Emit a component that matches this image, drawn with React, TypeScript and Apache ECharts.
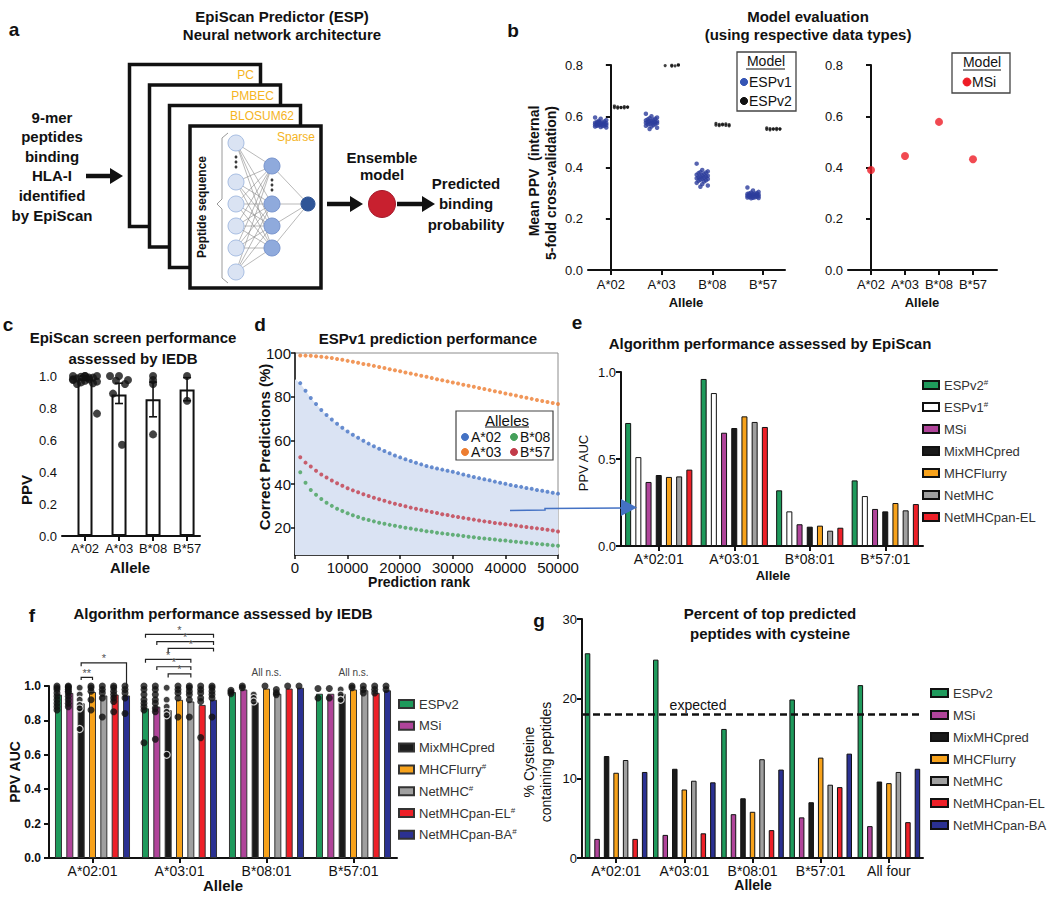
import React, { useEffect, useRef } from "react";
import * as echarts from "echarts";

const FONT = "'Liberation Sans', Arial, Helvetica, sans-serif";
const INK = "#111111";

// ---------------- Panel b ----------------
const B_ALLELES = ["A*02", "A*03", "B*08", "B*57"];
const B_ESPV1_A02 = [0.595, 0.59, 0.585, 0.582, 0.58, 0.578, 0.576, 0.575, 0.574, 0.573, 0.572, 0.571, 0.57, 0.569, 0.568, 0.567, 0.566, 0.565, 0.564, 0.563, 0.562, 0.56, 0.558, 0.556, 0.577];
const B_ESPV1_A03 = [0.61, 0.6, 0.595, 0.592, 0.59, 0.588, 0.586, 0.584, 0.582, 0.58, 0.579, 0.578, 0.577, 0.576, 0.575, 0.574, 0.573, 0.571, 0.57, 0.568, 0.566, 0.563, 0.56, 0.555, 0.55];
const B_ESPV1_B08 = [0.415, 0.39, 0.385, 0.382, 0.38, 0.378, 0.375, 0.372, 0.37, 0.368, 0.366, 0.365, 0.362, 0.36, 0.358, 0.356, 0.355, 0.352, 0.35, 0.348, 0.345, 0.34, 0.335, 0.33, 0.325];
const B_ESPV1_B57 = [0.322, 0.31, 0.305, 0.302, 0.3, 0.299, 0.298, 0.297, 0.296, 0.295, 0.294, 0.293, 0.292, 0.291, 0.29, 0.289, 0.288, 0.287, 0.286, 0.285, 0.284, 0.283, 0.282, 0.281, 0.28];
const B_ESPV2_A02 = [0.64, 0.638, 0.637, 0.636, 0.635, 0.634, 0.633, 0.632, 0.636, 0.634];
const B_ESPV2_A03 = [0.805, 0.803, 0.802, 0.8, 0.799, 0.798, 0.797, 0.801, 0.8, 0.796];
const B_ESPV2_B08 = [0.572, 0.57, 0.568, 0.567, 0.566, 0.565, 0.564, 0.563, 0.562, 0.569];
const B_ESPV2_B57 = [0.555, 0.553, 0.552, 0.551, 0.55, 0.549, 0.548, 0.547, 0.55, 0.551];
const B_ESPV1 = [B_ESPV1_A02, B_ESPV1_A03, B_ESPV1_B08, B_ESPV1_B57];
const B_ESPV2 = [B_ESPV2_A02, B_ESPV2_A03, B_ESPV2_B08, B_ESPV2_B57];
const B_MSI = [0.39, 0.445, 0.578, 0.432];

// ---------------- Panel c ----------------
const C_ALLELES = ["A*02", "A*03", "B*08", "B*57"];
const C_MEAN = [0.985, 0.885, 0.855, 0.915];
const C_ERR_LOW = [0.972, 0.828, 0.745, 0.845];
const C_ERR_HIGH = [0.998, 0.955, 0.962, 0.99];
const C_PTS_A02 = [1.0, 1.0, 1.0, 0.995, 0.99, 0.985, 0.98, 0.975, 0.97, 0.965, 0.96, 0.955, 0.95, 0.99, 0.98, 1.0, 0.765];
const C_PTS_A03 = [1.0, 1.0, 0.975, 0.97, 0.95, 0.89, 0.57];
const C_PTS_B08 = [1.0, 0.975, 0.95, 0.635];
const C_PTS_B57 = [1.0, 0.845];
const C_POINTS = [C_PTS_A02, C_PTS_A03, C_PTS_B08, C_PTS_B57];

// ---------------- Panel d ----------------
const D_RANK = [1000, 2000, 3000, 4000, 5000, 6000, 7000, 8000, 9000, 10000, 11000, 12000, 13000, 14000, 15000, 16000, 17000, 18000, 19000, 20000, 21000, 22000, 23000, 24000, 25000, 26000, 27000, 28000, 29000, 30000, 31000, 32000, 33000, 34000, 35000, 36000, 37000, 38000, 39000, 40000, 41000, 42000, 43000, 44000, 45000, 46000, 47000, 48000, 49000, 50000];
const D_A02 = [86.2, 82.7, 79.4, 76.6, 73.9, 71.6, 69.5, 67.6, 65.8, 64.1, 62.6, 61.2, 59.8, 58.5, 57.3, 56.2, 55.1, 54.1, 53.1, 52.2, 51.3, 50.5, 49.7, 49.0, 48.3, 47.7, 47.1, 46.6, 46.1, 45.6, 45.0, 44.4, 43.8, 43.2, 42.7, 42.2, 41.7, 41.1, 40.6, 40.1, 39.6, 39.1, 38.7, 38.2, 37.8, 37.3, 36.9, 36.5, 36.0, 35.6];
const D_A03 = [98.9, 98.8, 98.7, 98.5, 98.3, 98.0, 97.7, 97.3, 96.9, 96.4, 96.0, 95.5, 95.0, 94.6, 94.1, 93.6, 93.1, 92.6, 92.1, 91.6, 91.1, 90.6, 90.1, 89.6, 89.1, 88.6, 88.0, 87.5, 87.0, 86.5, 86.0, 85.5, 85.0, 84.5, 84.0, 83.5, 83.0, 82.5, 82.0, 81.5, 81.0, 80.5, 80.0, 79.5, 79.0, 78.5, 78.0, 77.6, 77.1, 76.6];
const D_B08 = [45.4, 40.6, 37.3, 35.1, 33.1, 31.4, 30.0, 28.7, 27.6, 26.6, 25.7, 24.9, 24.1, 23.5, 22.9, 22.3, 21.8, 21.3, 20.9, 20.4, 20.0, 19.6, 19.2, 18.8, 18.4, 18.1, 17.7, 17.4, 17.1, 16.8, 16.5, 16.2, 15.9, 15.6, 15.3, 15.1, 14.8, 14.6, 14.3, 14.1, 13.8, 13.6, 13.3, 13.1, 12.9, 12.6, 12.4, 12.2, 11.9, 11.7];
const D_B57 = [52.3, 49.8, 48.0, 46.1, 44.4, 43.0, 41.6, 40.4, 39.2, 38.1, 37.1, 36.2, 35.3, 34.5, 33.7, 33.0, 32.3, 31.6, 31.0, 30.4, 29.8, 29.2, 28.7, 28.2, 27.7, 27.2, 26.7, 26.2, 25.8, 25.3, 24.9, 24.5, 24.1, 23.7, 23.3, 22.9, 22.6, 22.2, 21.9, 21.6, 21.3, 21.0, 20.6, 20.3, 20.0, 19.7, 19.4, 19.1, 18.7, 18.3];
const D_A02_FILL_START = 88;
const D_Y_TICKS = [20, 40, 60, 80, 100];

// ---------------- Panel e ----------------
const E_ALLELES = ["A*02:01", "A*03:01", "B*08:01", "B*57:01"];
const E_ALGS = ["ESPv2#", "ESPv1#", "MSi", "MixMHCpred", "MHCFlurry", "NetMHC", "NetMHCpan-EL"];
const E_ESPV2 = [0.707, 0.96, 0.32, 0.377];
const E_ESPV1 = [0.511, 0.879, 0.199, 0.287];
const E_MSI = [0.368, 0.651, 0.125, 0.213];
const E_MIX = [0.408, 0.678, 0.111, 0.199];
const E_FLURRY = [0.397, 0.745, 0.117, 0.247];
const E_NETMHC = [0.4, 0.713, 0.088, 0.205];
const E_PANEL = [0.439, 0.684, 0.105, 0.241];
const E_VALUES = [E_ESPV2, E_ESPV1, E_MSI, E_MIX, E_FLURRY, E_NETMHC, E_PANEL];

// ---------------- Panel f ----------------
const F_ALLELES = ["A*02:01", "A*03:01", "B*08:01", "B*57:01"];
const F_ALGS = ["ESPv2", "MSi", "MixMHCpred", "MHCFlurry#", "NetMHC#", "NetMHCpan-EL#", "NetMHCpan-BA#"];
const F_MEAN_ESPV2 = [0.95, 0.87, 0.965, 0.955];
const F_MEAN_MSI = [0.96, 0.88, 0.98, 0.955];
const F_MEAN_MIX = [0.9, 0.86, 0.905, 0.955];
const F_MEAN_FLURRY = [0.965, 0.92, 0.985, 0.98];
const F_MEAN_NETMHC = [0.945, 0.91, 0.955, 0.975];
const F_MEAN_PANEL = [0.95, 0.89, 0.985, 0.96];
const F_MEAN_PANBA = [0.945, 0.92, 0.99, 0.975];
const F_MEANS = [F_MEAN_ESPV2, F_MEAN_MSI, F_MEAN_MIX, F_MEAN_FLURRY, F_MEAN_NETMHC, F_MEAN_PANEL, F_MEAN_PANBA];
const F_PTS_ESPV2 = [[1.0, 0.99, 0.98, 0.96, 0.94, 0.92, 0.9, 0.88, 0.86], [1.0, 0.98, 0.95, 0.92, 0.9, 0.88, 0.86, 0.67], [0.975, 0.965, 0.955], [0.985, 0.93]];
const F_PTS_MSI = [[1.0, 0.995, 0.99, 0.98, 0.97, 0.96, 0.94, 0.92, 0.9, 0.88], [1.0, 0.98, 0.95, 0.92, 0.9, 0.87, 0.85, 0.69], [1.0, 0.99], [0.985, 0.93]];
const F_PTS_MIX = [[0.99, 0.95, 0.92, 0.89, 0.87, 0.75], [0.99, 0.92, 0.88, 0.85, 0.83, 0.6], [0.95, 0.93, 0.91], [0.98, 0.95, 0.92]];
const F_PTS_FLURRY = [[1.0, 0.99, 0.97, 0.92, 0.86], [1.0, 0.98, 0.96, 0.93, 0.82], [1.0], [1.0, 0.99]];
const F_PTS_NETMHC = [[1.0, 0.98, 0.96, 0.93, 0.82], [1.0, 0.99, 0.97, 0.95, 0.92, 0.82], [0.98, 0.96, 0.95], [1.0, 0.98, 0.96]];
const F_PTS_PANEL = [[1.0, 0.99, 0.97, 0.95, 0.93, 0.91, 0.85], [1.0, 0.98, 0.96, 0.93, 0.91, 0.7], [1.0], [1.0, 0.98, 0.96]];
const F_PTS_PANBA = [[1.0, 0.98, 0.96, 0.93, 0.84], [1.0, 0.99, 0.97, 0.95, 0.93, 0.82], [1.0], [1.0, 0.98]];
const F_POINTS = [F_PTS_ESPV2, F_PTS_MSI, F_PTS_MIX, F_PTS_FLURRY, F_PTS_NETMHC, F_PTS_PANEL, F_PTS_PANBA];
// allele, from bar, to bar, bracket level, left end, right end
const F_BRACKETS = [
  [0, 2, 3, 1.05, 1.035, 1.035],
  [0, 2, 6, 1.135, 1.115, 0.995],
  [1, 0, 6, 1.3, 1.28, 1.28],
  [1, 1, 6, 1.258, 1.238, 1.238],
  [1, 2, 6, 1.219, 1.19, 1.2],
  [1, 0, 4, 1.155, 1.135, 1.135],
  [1, 1, 4, 1.112, 1.093, 1.093],
  [1, 2, 4, 1.07, 1.05, 1.05],
];
const F_BRACKET_LABELS = ["**", "*", "*", "*", "*", "*", "*", "*"];
const F_NS = [[2, 1.081], [3, 1.081]];
const F_NS_LABEL = "All n.s.";

// ---------------- Panel g ----------------
const G_ALLELES = ["A*02:01", "A*03:01", "B*08:01", "B*57:01", "All four"];
const G_ALGS = ["ESPv2", "MSi", "MixMHCpred", "MHCFlurry", "NetMHC", "NetMHCpan-EL", "NetMHCpan-BA"];
const G_ESPV2 = [25.7, 24.9, 16.2, 19.9, 21.7];
const G_MSI = [2.4, 2.9, 5.5, 5.1, 4.0];
const G_MIX = [12.8, 11.2, 7.5, 7.0, 9.6];
const G_FLURRY = [10.7, 8.6, 5.8, 12.6, 9.4];
const G_NETMHC = [12.3, 9.7, 12.4, 9.2, 10.8];
const G_PANEL = [2.4, 3.1, 3.5, 8.9, 4.5];
const G_PANBA = [10.8, 9.5, 11.1, 13.1, 11.2];
const G_VALUES = [G_ESPV2, G_MSI, G_MIX, G_FLURRY, G_NETMHC, G_PANEL, G_PANBA];
const G_EXPECTED = 18.1;

// ---------------- styles ----------------
const GREEN = "#1f9a5c";
const PURPLE = "#b0449a";
const BLACK = "#1a1a1a";
const ORANGE = "#f7a21b";
const GRAY = "#a0a0a0";
const RED = "#ee2028";
const NAVY = "#2b3192";
const E_COLORS = [GREEN, "#ffffff", PURPLE, BLACK, ORANGE, GRAY, RED];
const FG_COLORS = [GREEN, PURPLE, BLACK, ORANGE, GRAY, RED, NAVY];

const spread = (k: number, m: number) => (m <= 1 ? 0 : (((k * 3) % m) - (m - 1) / 2) / ((m - 1) / 2));

const axisLine = (w = 2) => ({ show: true, lineStyle: { color: INK, width: w } });
const axisTick = (extra: any = {}, w = 2) => ({ show: true, length: 5, lineStyle: { color: INK, width: w }, ...extra });

// f layout helpers
const F_GRID = { left: 49, top: 686, width: 348, height: 172 };
const F_BAND = F_GRID.width / 4;
const F_BARW = 7;
const F_GAP = 0.62;
const F_STEP = (F_BARW * (1 + F_GAP)) / F_BAND;

function T(x: number, y: number, text: string, size: number, o: any = {}) {
  const align = o.align || "center";
  return {
    type: "text",
    x,
    y,
    rotation: o.rotation || 0,
    silent: true,
    z: 100,
    style: {
      text,
      fontSize: size,
      fontFamily: FONT,
      fontWeight: o.bold ? "bold" : "normal",
      fill: o.color || INK,
      align,
      textAlign: align,
      verticalAlign: "middle",
      textVerticalAlign: "middle",
    },
  };
}
const L = (x1: number, y1: number, x2: number, y2: number, stroke = INK, w = 1) => ({
  type: "line",
  silent: true,
  z: 90,
  shape: { x1, y1, x2, y2 },
  style: { stroke, lineWidth: w },
});
const C = (cx: number, cy: number, r: number, fill: string, stroke?: string, w = 1) => ({
  type: "circle",
  silent: true,
  z: 95,
  shape: { cx, cy, r },
  style: { fill, stroke: stroke || fill, lineWidth: w },
});
const R = (x: number, y: number, width: number, height: number, stroke = INK, w = 3, fill = "#fff") => ({
  type: "rect",
  silent: true,
  z: 80,
  shape: { x, y, width, height },
  style: { fill, stroke, lineWidth: w },
});
const ARROW = (x1: number, x2: number, y: number) => [
  L(x1, y, x2 - 10, y, INK, 4.5),
  { type: "polygon", silent: true, z: 95, shape: { points: [[x2 - 13, y - 8], [x2, y], [x2 - 13, y + 8]] }, style: { fill: INK } },
];

function panelA(): any[] {
  const g: any[] = [];
  g.push(T(14, 29, "a", 19, { bold: true }));
  g.push(T(282, 16, "EpiScan Predictor (ESP)", 15, { bold: true }));
  g.push(T(282, 34, "Neural network architecture", 15, { bold: true }));
  ["9-mer", "peptides", "binding", "HLA-I", "identified", "by EpiScan"].forEach((s, i) =>
    g.push(T(52, 117 + i * 19.6, s, 15, { bold: true }))
  );
  g.push(...ARROW(86, 123, 176));
  const boxes = [
    [129.5, 64.5, "PC", 254, 75],
    [149.5, 85, "PMBEC", 274, 96],
    [169.5, 105.5, "BLOSUM62", 294, 116],
    [190, 126, "Sparse", 315, 137],
  ];
  boxes.forEach((b: any) => {
    g.push(R(b[0], b[1], 131, 162, INK, 3.5));
    g.push({ ...T(b[3], b[4], b[2], 12, { color: "#f5b41e", align: "right" }), z: 85 });
  });
  // network
  const inY = [143, 182, 204, 226, 248, 272];
  const hidY = [166, 204, 226, 248];
  inY.forEach((y1) => hidY.forEach((y2) => g.push({ ...L(236, y1, 272, y2, "#8a8a8a", 0.6), z: 86 })));
  hidY.forEach((y1) => g.push({ ...L(272, y1, 308, 204, "#8a8a8a", 0.6), z: 86 }));
  inY.forEach((y) => g.push(C(236, y, 8, "#dae3f3", "#a9bfe3", 1)));
  hidY.forEach((y) => g.push(C(272, y, 8, "#8faadc", "#7a96cf", 1)));
  g.push(C(308, 204, 7, "#2f5597"));
  [157, 162, 167].forEach((y) => g.push(C(236, y, 1.1, "#333")));
  [180, 185, 190].forEach((y) => g.push(C(272, y, 1.1, "#333")));
  g.push({
    type: "polyline",
    silent: true,
    z: 90,
    shape: { points: [[228, 133], [222, 138], [222, 199], [217, 204], [222, 209], [222, 278], [228, 283]] },
    style: { stroke: "#9a9a9a", lineWidth: 1, fill: null },
  });
  g.push(T(202, 207, "Peptide sequence", 12, { bold: true, rotation: Math.PI / 2 }));
  g.push(...ARROW(327, 363, 204));
  g.push(C(382, 204, 13.5, "#c8202f", "#a3182a", 1));
  g.push(...ARROW(397, 435, 204));
  g.push(T(382, 157, "Ensemble", 15, { bold: true }));
  g.push(T(382, 174, "model", 15, { bold: true }));
  g.push(T(466, 183, "Predicted", 15, { bold: true }));
  g.push(T(466, 203, "binding", 15, { bold: true }));
  g.push(T(466, 224, "probability", 15, { bold: true }));
  return g;
}

function annotations(): any[] {
  const g: any[] = [];
  // b
  g.push(T(513, 30, "b", 19, { bold: true }));
  g.push(T(808, 16, "Model evaluation", 15, { bold: true }));
  g.push(T(808, 34, "(using respective data types)", 15, { bold: true }));
  g.push(T(534, 171, "Mean PPV  (internal", 14, { bold: true, rotation: Math.PI / 2 }));
  g.push(T(551, 183, "5-fold cross-validation)", 14, { bold: true, rotation: Math.PI / 2 }));
  g.push(T(686, 302, "Allele", 13, { bold: true }));
  g.push(T(922, 302, "Allele", 13, { bold: true }));
  g.push(R(737, 52, 59, 59, "#444", 1.3));
  g.push(T(766, 61, "Model", 14));
  g.push(L(746, 69, 785, 69, INK, 1));
  g.push(C(744, 82, 3.6, "#3555b5"));
  g.push(T(749, 82, "ESPv1", 14, { align: "left" }));
  g.push(C(744, 101, 3.6, INK));
  g.push(T(749, 101, "ESPv2", 14, { align: "left" }));
  g.push(R(952, 53, 58, 40, "#444", 1.3));
  g.push(T(982, 62, "Model", 14));
  g.push(L(963, 70, 1001, 70, INK, 1));
  g.push(C(967, 82, 4, "#ee1c25"));
  g.push(T(972, 82, "MSi", 14, { align: "left" }));
  // c
  g.push(T(8, 324, "c", 19, { bold: true }));
  g.push(T(133, 337, "EpiScan screen performance", 15, { bold: true }));
  g.push(T(133, 358, "assessed by IEDB", 15, { bold: true }));
  g.push(T(26, 490, "PPV", 15, { bold: true, rotation: Math.PI / 2 }));
  g.push(T(130, 567, "Allele", 15, { bold: true }));
  // d
  g.push(T(260, 324, "d", 19, { bold: true }));
  g.push(T(428, 338, "ESPv1 prediction performance", 15, { bold: true }));
  g.push(T(264, 447, "Correct Predictions (%)", 15, { bold: true, rotation: Math.PI / 2 }));
  g.push(T(419, 582, "Prediction rank", 14, { bold: true }));
  g.push(R(456, 411, 97, 49, "#444", 1.2));
  g.push(T(507, 420, "Alleles", 15));
  g.push(L(485, 427, 529, 427, INK, 1));
  g.push(C(465, 437, 3.5, "#4472c4"));
  g.push(T(471, 437, "A*02", 14, { align: "left" }));
  g.push(C(514, 437, 3.5, "#45a05a"));
  g.push(T(520, 437, "B*08", 14, { align: "left" }));
  g.push(C(465, 452, 3.5, "#ed7d31"));
  g.push(T(471, 452, "A*03", 14, { align: "left" }));
  g.push(C(514, 452, 3.5, "#c23b4a"));
  g.push(T(520, 452, "B*57", 14, { align: "left" }));
  // blue connector arrow d -> e
  g.push({ type: "polyline", silent: true, z: 120, shape: { points: [[510, 510.5], [545, 510], [545, 508.5], [623, 508]] }, style: { stroke: "#4472c4", lineWidth: 1.5, fill: null } });
  g.push({ type: "polygon", silent: true, z: 120, shape: { points: [[621, 499], [637, 507.5], [621, 516]] }, style: { fill: "#4472c4" } });
  // e
  g.push(T(577, 322, "e", 19, { bold: true }));
  g.push(T(770, 343, "Algorithm performance assessed by EpiScan", 15, { bold: true }));
  g.push(T(583, 463, "PPV AUC", 13, { rotation: Math.PI / 2 }));
  g.push(T(773, 575, "Allele", 13, { bold: true }));
  // f
  g.push(T(32, 615, "f", 19, { bold: true }));
  g.push(T(223, 613, "Algorithm performance assessed by IEDB", 15, { bold: true }));
  g.push(T(15, 772, "PPV AUC", 14, { bold: true, rotation: Math.PI / 2 }));
  g.push(T(223, 885, "Allele", 15, { bold: true }));
  g.push(L(44, 858, 50, 858, INK, 2));
  // g
  g.push(T(539, 620, "g", 19, { bold: true }));
  g.push(T(770, 613, "Percent of top predicted", 15, { bold: true }));
  g.push(T(770, 633, "peptides with cysteine", 15, { bold: true }));
  g.push(T(529, 762, "% Cysteine", 14, { rotation: Math.PI / 2 }));
  g.push(T(546, 762, "containing peptides", 14, { rotation: Math.PI / 2 }));
  g.push(T(753, 885, "Allele", 14, { bold: true }));
  g.push(T(698, 705, "expected", 14));
  return g;
}

function buildOption(): any {
  const series: any[] = [];

  // ---- b left ----
  series.push({
    name: "b|ESPv1",
    type: "scatter",
    xAxisIndex: 0,
    yAxisIndex: 0,
    symbolSize: 4.5,
    itemStyle: { color: "#2d3d9c" },
    data: B_ESPV1.flatMap((vals, i) => vals.map((v, k) => [i - 0.2 + spread(k, 7) * 0.11, v])),
  });
  series.push({
    name: "b|ESPv2",
    type: "scatter",
    xAxisIndex: 0,
    yAxisIndex: 0,
    symbolSize: 3.2,
    itemStyle: { color: INK },
    data: B_ESPV2.flatMap((vals, i) => vals.map((v, k) => [i + 0.2 + spread(k, 5) * 0.13, v])),
  });
  // ---- b right ----
  series.push({
    name: "b|MSi",
    type: "scatter",
    xAxisIndex: 1,
    yAxisIndex: 1,
    symbolSize: 8,
    itemStyle: { color: "#ee1c25" },
    data: B_MSI.map((v, i) => [i, v]),
  });

  // ---- c ----
  series.push({
    name: "c|bars",
    type: "bar",
    xAxisIndex: 2,
    yAxisIndex: 2,
    barWidth: 15,
    itemStyle: { color: "#ffffff", borderColor: INK, borderWidth: 2 },
    data: C_MEAN.map((v, i) => [i, v]),
    z: 2,
  });
  series.push({
    name: "c|err",
    type: "custom",
    xAxisIndex: 2,
    yAxisIndex: 2,
    z: 3,
    encode: { x: 0, y: [1, 2] },
    data: C_MEAN.map((_, i) => [i, C_ERR_LOW[i], C_ERR_HIGH[i]]),
    renderItem: (params: any, api: any) => {
      const x = api.value(0);
      const lo = api.coord([x, api.value(1)]);
      const hi = api.coord([x, api.value(2)]);
      const st = { stroke: INK, lineWidth: 1.6 };
      return {
        type: "group",
        children: [
          { type: "line", shape: { x1: lo[0], y1: lo[1], x2: hi[0], y2: hi[1] }, style: st },
          { type: "line", shape: { x1: lo[0] - 4, y1: lo[1], x2: lo[0] + 4, y2: lo[1] }, style: st },
          { type: "line", shape: { x1: hi[0] - 4, y1: hi[1], x2: hi[0] + 4, y2: hi[1] }, style: st },
        ],
      };
    },
  });
  const C_UNIT = 138 / (3.38 + 0.676);
  const cSpreadPx = [12, 9, 0, 0];
  series.push({
    name: "c|pts",
    type: "scatter",
    xAxisIndex: 2,
    yAxisIndex: 2,
    symbolSize: 8,
    z: 4,
    itemStyle: { color: INK },
    data: C_POINTS.flatMap((vals, i) => vals.map((v, k) => [i + (spread(k, 7) * cSpreadPx[i]) / C_UNIT, v])),
  });

  // ---- d ----
  series.push({
    name: "d|fill",
    type: "line",
    xAxisIndex: 3,
    yAxisIndex: 3,
    symbol: "none",
    silent: true,
    z: 1,
    lineStyle: { width: 0, opacity: 0 },
    areaStyle: { color: "#dae3f3", opacity: 1 },
    data: [[0, D_A02_FILL_START], ...D_RANK.map((r, i) => [r, D_A02[i]])],
  });
  const dSeries: [string, number[], string][] = [
    ["A*02", D_A02, "#4472c4"],
    ["A*03", D_A03, "#ed7d31"],
    ["B*08", D_B08, "#45a05a"],
    ["B*57", D_B57, "#c23b4a"],
  ];
  dSeries.forEach(([n, vals, col]) =>
    series.push({
      name: "d|" + n,
      type: "scatter",
      xAxisIndex: 3,
      yAxisIndex: 3,
      symbolSize: 4,
      z: 3,
      itemStyle: { color: col },
      data: D_RANK.map((r, i) => [r, vals[i]]),
    })
  );

  // ---- e ----
  E_ALGS.forEach((n, j) =>
    series.push({
      name: "e|" + n,
      type: "bar",
      xAxisIndex: 4,
      yAxisIndex: 4,
      barWidth: 6,
      barGap: "70%",
      itemStyle: { color: E_COLORS[j], borderColor: INK, borderWidth: 1 },
      data: E_VALUES[j],
    })
  );

  // ---- f ----
  F_ALGS.forEach((n, j) =>
    series.push({
      name: "f|" + n,
      type: "bar",
      xAxisIndex: 5,
      yAxisIndex: 5,
      barWidth: F_BARW,
      barGap: Math.round(F_GAP * 100) + "%",
      itemStyle: { color: FG_COLORS[j], borderColor: "#333", borderWidth: 1 },
      data: F_MEANS[j],
      z: 2,
    })
  );
  F_ALGS.forEach((n, j) =>
    series.push({
      name: "fp|" + n,
      type: "scatter",
      xAxisIndex: 6,
      yAxisIndex: 5,
      symbolSize: 7,
      z: 4,
      itemStyle: j === 2 ? { color: INK, borderColor: "#ffffff", borderWidth: 1.2 } : { color: INK },
      data: F_POINTS[j].flatMap((vals, i) =>
        vals.map((v, k) => [i + 0.5 + (j - 3) * F_STEP + (spread(k, 3) * 1.5) / F_BAND, v])
      ),
    })
  );
  series.push({
    name: "f|brackets",
    type: "custom",
    xAxisIndex: 6,
    yAxisIndex: 5,
    clip: false,
    z: 5,
    silent: true,
    encode: { x: 0, y: 3 },
    data: F_BRACKETS.map((b) => [b[0] + 0.5 + (b[1] - 3) * F_STEP, b[0] + 0.5 + (b[2] - 3) * F_STEP, 0, b[3], b[4], b[5]]),
    renderItem: (params: any, api: any) => {
      const xa = api.value(0);
      const xb = api.value(1);
      const lvl = api.value(3);
      const p1 = api.coord([xa, api.value(4)]);
      const p2 = api.coord([xa, lvl]);
      const p3 = api.coord([xb, lvl]);
      const p4 = api.coord([xb, api.value(5)]);
      return {
        type: "group",
        children: [
          { type: "polyline", shape: { points: [p1, p2, p3, p4] }, style: { stroke: "#222", lineWidth: 1.2, fill: null } },
          {
            type: "text",
            x: (p2[0] + p3[0]) / 2,
            y: p2[1] + 1,
            style: {
              text: F_BRACKET_LABELS[params.dataIndex],
              fontSize: 11,
              fontFamily: FONT,
              fill: "#555",
              align: "center",
              textAlign: "center",
              verticalAlign: "bottom",
              textVerticalAlign: "bottom",
            },
          },
        ],
      };
    },
  });
  series.push({
    name: "f|ns",
    type: "custom",
    xAxisIndex: 6,
    yAxisIndex: 5,
    clip: false,
    silent: true,
    encode: { x: 0, y: 1 },
    data: F_NS.map((d) => [d[0] + 0.5, d[1]]),
    renderItem: (params: any, api: any) => {
      const p = api.coord([api.value(0), api.value(1)]);
      return {
        type: "text",
        x: p[0],
        y: p[1],
        style: {
          text: F_NS_LABEL,
          fontSize: 10,
          fontFamily: FONT,
          fill: "#444",
          align: "center",
          textAlign: "center",
          verticalAlign: "middle",
          textVerticalAlign: "middle",
        },
      };
    },
  });

  // ---- g ----
  G_ALGS.forEach((n, j) =>
    series.push({
      name: "g|" + n,
      type: "bar",
      xAxisIndex: 7,
      yAxisIndex: 6,
      barWidth: 5.5,
      barGap: "73%",
      itemStyle: { color: FG_COLORS[j], borderColor: INK, borderWidth: 1 },
      data: G_VALUES[j],
      markLine:
        j === 0
          ? {
              silent: true,
              symbol: ["none", "none"],
              label: { show: false },
              lineStyle: { color: INK, type: [7, 4], width: 2.5 },
              data: [{ yAxis: G_EXPECTED }],
            }
          : undefined,
    })
  );

  const lbl = (size: number, extra: any = {}) => ({ fontSize: size, color: INK, fontFamily: FONT, ...extra });
  const fmt1 = (v: number) => v.toFixed(1);

  const xAxis: any[] = [
    {
      gridIndex: 0, type: "value", min: -0.45, max: 3.43, splitLine: { show: false },
      axisLine: axisLine(), axisTick: axisTick({ customValues: [0, 1, 2, 3] }),
      axisLabel: { ...lbl(13), margin: 8, customValues: [0, 1, 2, 3], formatter: (v: number) => B_ALLELES[Math.round(v)] },
    },
    {
      gridIndex: 1, type: "value", min: -0.676, max: 3.706, splitLine: { show: false },
      axisLine: axisLine(), axisTick: axisTick({ customValues: [0, 1, 2, 3] }),
      axisLabel: { ...lbl(13), margin: 8, customValues: [0, 1, 2, 3], formatter: (v: number) => B_ALLELES[Math.round(v)] },
    },
    {
      gridIndex: 2, type: "value", min: -0.676, max: 3.38, splitLine: { show: false },
      axisLine: axisLine(), axisTick: axisTick({ customValues: [0, 1, 2, 3] }),
      axisLabel: { ...lbl(13), margin: 6, customValues: [0, 1, 2, 3], formatter: (v: number) => C_ALLELES[Math.round(v)] },
    },
    {
      gridIndex: 3, type: "value", min: 0, max: 50000, interval: 10000, splitLine: { show: false },
      axisLine: axisLine(1.5), axisTick: axisTick({ length: 4 }, 1.5),
      axisLabel: { ...lbl(15), margin: 5, formatter: (v: number) => String(v) },
    },
    {
      gridIndex: 4, type: "category", data: E_ALLELES,
      axisLine: axisLine(), axisTick: axisTick({ alignWithLabel: true }),
      axisLabel: { ...lbl(14), margin: 6 },
    },
    {
      gridIndex: 5, type: "category", data: F_ALLELES,
      axisLine: axisLine(), axisTick: axisTick({ alignWithLabel: true }),
      axisLabel: { ...lbl(14), margin: 6 },
    },
    { gridIndex: 5, type: "value", min: 0, max: 4, show: false },
    {
      gridIndex: 6, type: "category", data: G_ALLELES,
      axisLine: axisLine(), axisTick: axisTick({ alignWithLabel: true }),
      axisLabel: { ...lbl(14), margin: 6 },
    },
  ];
  const yAxis: any[] = [
    {
      gridIndex: 0, type: "value", min: 0, max: 0.8, interval: 0.2, splitLine: { show: false },
      axisLine: axisLine(), axisTick: axisTick(), axisLabel: { ...lbl(13), margin: 5, formatter: fmt1 },
    },
    {
      gridIndex: 1, type: "value", min: 0, max: 0.8, interval: 0.2, splitLine: { show: false },
      axisLine: axisLine(), axisTick: axisTick(), axisLabel: { ...lbl(13), margin: 5, formatter: fmt1 },
    },
    {
      gridIndex: 2, type: "value", min: 0, max: 1, interval: 0.2, splitLine: { show: false },
      axisLine: axisLine(), axisTick: axisTick(),
      minorTick: { show: true, splitNumber: 4, length: 3, lineStyle: { color: INK, width: 1.5 } },
      minorSplitLine: { show: false },
      axisLabel: { ...lbl(13), margin: 5, formatter: fmt1 },
    },
    {
      gridIndex: 3, type: "value", min: 7.5, max: 100, splitLine: { show: false },
      axisLine: axisLine(1.5), axisTick: axisTick({ customValues: D_Y_TICKS, length: 4 }, 1.5),
      axisLabel: { ...lbl(15), margin: 4, customValues: D_Y_TICKS },
    },
    {
      gridIndex: 4, type: "value", min: 0, max: 1, interval: 0.5, splitLine: { show: false },
      axisLine: axisLine(), axisTick: axisTick(), axisLabel: { ...lbl(13), margin: 5, formatter: fmt1 },
    },
    {
      gridIndex: 5, type: "value", min: 0, max: 1, interval: 0.2, offset: 4, splitLine: { show: false },
      axisLine: axisLine(), axisTick: axisTick(), axisLabel: { ...lbl(12, { fontWeight: "bold" }), margin: 4, formatter: fmt1 },
    },
    {
      gridIndex: 6, type: "value", min: 0, max: 30, interval: 10, splitLine: { show: false },
      axisLine: axisLine(), axisTick: axisTick(), axisLabel: { ...lbl(13), margin: 5 },
    },
  ];

  const legendFmt = (name: string) => {
    const n = name.split("|")[1];
    return n.endsWith("#") ? n.slice(0, -1) + "{s|#}" : n;
  };
  const legendBase = (left: number, top: number, names: string[], gap: number, w: number) => ({
    orient: "vertical",
    left,
    top,
    padding: 0,
    itemGap: gap,
    itemWidth: w,
    itemHeight: 8,
    icon: "rect",
    selectedMode: false,
    data: names,
    formatter: legendFmt,
    textStyle: {
      fontSize: 13,
      lineHeight: 14,
      color: "#333",
      fontFamily: FONT,
      rich: { s: { fontSize: 8, lineHeight: 14, verticalAlign: "top", color: "#333", padding: [0, 0, 4, 0] } },
    },
  });

  return {
    animation: false,
    backgroundColor: "#ffffff",
    textStyle: { fontFamily: FONT },
    grid: [
      { left: 588, top: 65, width: 197, height: 205 },
      { left: 848, top: 65, width: 149, height: 205 },
      { left: 62, top: 376, width: 138, height: 160 },
      { left: 295, top: 353, width: 263, height: 202, show: true, borderColor: "#8c8c8c", borderWidth: 1, backgroundColor: "transparent" },
      { left: 621, top: 372, width: 302, height: 174 },
      F_GRID,
      { left: 582, top: 619, width: 341, height: 239 },
    ],
    xAxis,
    yAxis,
    legend: [
      legendBase(922, 378, E_ALGS.map((n) => "e|" + n), 8, 16),
      legendBase(398, 697, F_ALGS.map((n) => "f|" + n), 7.8, 15),
      legendBase(930, 686, G_ALGS.map((n) => "g|" + n), 8, 17),
    ],
    series,
    graphic: { elements: [...panelA(), ...annotations()] },
  };
}

export default function App() {
  const ref = useRef<HTMLDivElement>(null);
  useEffect(() => {
    if (!ref.current) return;
    const chart = echarts.init(ref.current, null, { renderer: "svg" });
    chart.setOption(buildOption());
    return () => chart.dispose();
  }, []);
  return (
    <div
      ref={ref}
      style={{ position: "fixed", left: 0, top: 0, width: 1050, height: 899, background: "#ffffff" }}
    />
  );
}
